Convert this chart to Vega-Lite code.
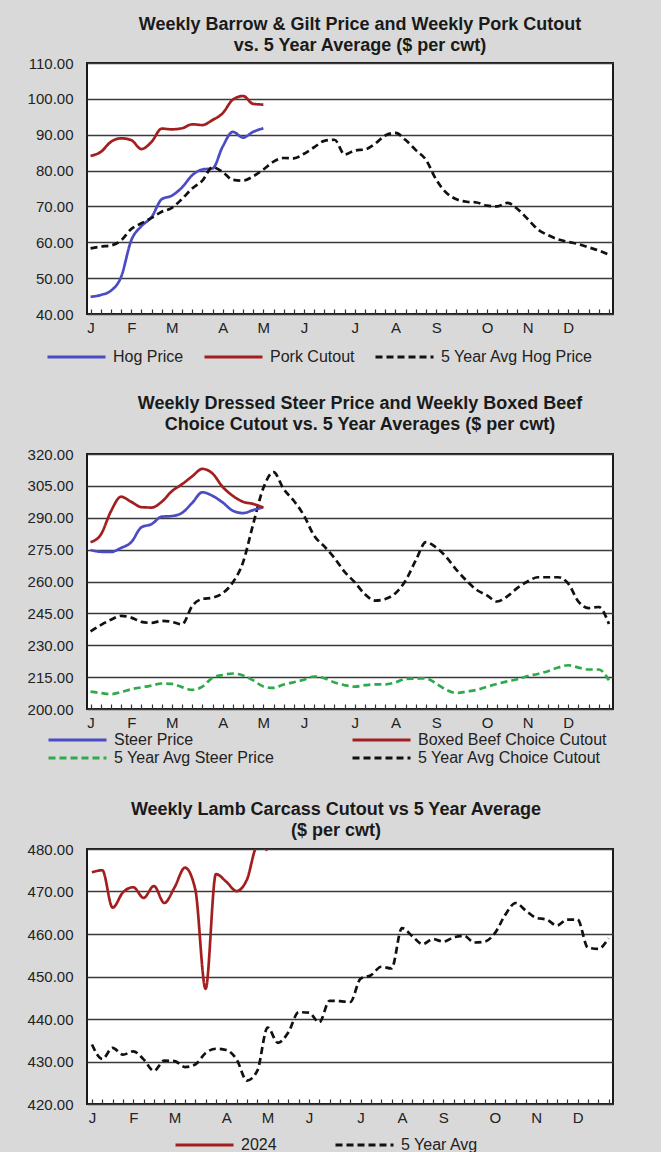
{
  "$schema": "https://vega.github.io/schema/vega-lite/v6.json",
  "padding": {"left": 26, "top": 15, "right": 50, "bottom": 0},
  "background": "#d9d9d9",
  "bounds": "flush",
  "spacing": 140,
  "datasets": {
    "hog": [
      {"week":1,"series":"Hog Price","value":44.8},{"week":2,"series":"Hog Price","value":45.3},{"week":3,"series":"Hog Price","value":46.5},{"week":4,"series":"Hog Price","value":50.3},{"week":5,"series":"Hog Price","value":60.5},{"week":6,"series":"Hog Price","value":64.5},{"week":7,"series":"Hog Price","value":67.0},{"week":8,"series":"Hog Price","value":72.0},{"week":9,"series":"Hog Price","value":73.0},{"week":10,"series":"Hog Price","value":75.3},{"week":11,"series":"Hog Price","value":78.7},{"week":12,"series":"Hog Price","value":80.3},{"week":13,"series":"Hog Price","value":80.6},{"week":14,"series":"Hog Price","value":86.7},{"week":15,"series":"Hog Price","value":90.8},{"week":16,"series":"Hog Price","value":89.2},{"week":17,"series":"Hog Price","value":90.8},{"week":18,"series":"Hog Price","value":91.8},
      {"week":1,"series":"Pork Cutout","value":84.1},{"week":2,"series":"Pork Cutout","value":85.2},{"week":3,"series":"Pork Cutout","value":88.0},{"week":4,"series":"Pork Cutout","value":89.0},{"week":5,"series":"Pork Cutout","value":88.5},{"week":6,"series":"Pork Cutout","value":86.0},{"week":7,"series":"Pork Cutout","value":88.0},{"week":8,"series":"Pork Cutout","value":91.7},{"week":9,"series":"Pork Cutout","value":91.5},{"week":10,"series":"Pork Cutout","value":91.8},{"week":11,"series":"Pork Cutout","value":92.9},{"week":12,"series":"Pork Cutout","value":92.7},{"week":13,"series":"Pork Cutout","value":94.1},{"week":14,"series":"Pork Cutout","value":96.0},{"week":15,"series":"Pork Cutout","value":99.8},{"week":16,"series":"Pork Cutout","value":100.8},{"week":17,"series":"Pork Cutout","value":98.6},{"week":18,"series":"Pork Cutout","value":98.4},
      {"week":1,"series":"5 Year Avg Hog Price","value":58.3},{"week":2,"series":"5 Year Avg Hog Price","value":58.8},{"week":3,"series":"5 Year Avg Hog Price","value":59.1},{"week":4,"series":"5 Year Avg Hog Price","value":60.5},{"week":5,"series":"5 Year Avg Hog Price","value":63.7},{"week":6,"series":"5 Year Avg Hog Price","value":65.3},{"week":7,"series":"5 Year Avg Hog Price","value":66.8},{"week":8,"series":"5 Year Avg Hog Price","value":68.5},{"week":9,"series":"5 Year Avg Hog Price","value":69.6},{"week":10,"series":"5 Year Avg Hog Price","value":72.1},{"week":11,"series":"5 Year Avg Hog Price","value":75.0},{"week":12,"series":"5 Year Avg Hog Price","value":77.2},{"week":13,"series":"5 Year Avg Hog Price","value":80.9},{"week":14,"series":"5 Year Avg Hog Price","value":79.6},{"week":15,"series":"5 Year Avg Hog Price","value":77.4},{"week":16,"series":"5 Year Avg Hog Price","value":77.2},{"week":17,"series":"5 Year Avg Hog Price","value":78.4},{"week":18,"series":"5 Year Avg Hog Price","value":80.3},{"week":19,"series":"5 Year Avg Hog Price","value":82.5},{"week":20,"series":"5 Year Avg Hog Price","value":83.5},{"week":21,"series":"5 Year Avg Hog Price","value":83.4},{"week":22,"series":"5 Year Avg Hog Price","value":84.7},{"week":23,"series":"5 Year Avg Hog Price","value":86.5},{"week":24,"series":"5 Year Avg Hog Price","value":88.3},{"week":25,"series":"5 Year Avg Hog Price","value":88.6},{"week":26,"series":"5 Year Avg Hog Price","value":84.5},{"week":27,"series":"5 Year Avg Hog Price","value":85.6},{"week":28,"series":"5 Year Avg Hog Price","value":85.9},{"week":29,"series":"5 Year Avg Hog Price","value":87.5},{"week":30,"series":"5 Year Avg Hog Price","value":89.8},{"week":31,"series":"5 Year Avg Hog Price","value":90.5},{"week":32,"series":"5 Year Avg Hog Price","value":88.5},{"week":33,"series":"5 Year Avg Hog Price","value":85.7},{"week":34,"series":"5 Year Avg Hog Price","value":83.0},{"week":35,"series":"5 Year Avg Hog Price","value":77.5},{"week":36,"series":"5 Year Avg Hog Price","value":73.8},{"week":37,"series":"5 Year Avg Hog Price","value":72.0},{"week":38,"series":"5 Year Avg Hog Price","value":71.3},{"week":39,"series":"5 Year Avg Hog Price","value":71.1},{"week":40,"series":"5 Year Avg Hog Price","value":70.2},{"week":41,"series":"5 Year Avg Hog Price","value":70.0},{"week":42,"series":"5 Year Avg Hog Price","value":71.0},{"week":43,"series":"5 Year Avg Hog Price","value":69.3},{"week":44,"series":"5 Year Avg Hog Price","value":66.5},{"week":45,"series":"5 Year Avg Hog Price","value":63.6},{"week":46,"series":"5 Year Avg Hog Price","value":62.0},{"week":47,"series":"5 Year Avg Hog Price","value":60.8},{"week":48,"series":"5 Year Avg Hog Price","value":60.1},{"week":49,"series":"5 Year Avg Hog Price","value":59.5},{"week":50,"series":"5 Year Avg Hog Price","value":58.6},{"week":51,"series":"5 Year Avg Hog Price","value":57.7},{"week":52,"series":"5 Year Avg Hog Price","value":56.5}
    ],
    "beef": [
      {"week":1,"series":"5 Year Avg Steer Price","value":208.2},{"week":2,"series":"5 Year Avg Steer Price","value":207.5},{"week":3,"series":"5 Year Avg Steer Price","value":207.0},{"week":4,"series":"5 Year Avg Steer Price","value":208.0},{"week":5,"series":"5 Year Avg Steer Price","value":209.3},{"week":6,"series":"5 Year Avg Steer Price","value":210.2},{"week":7,"series":"5 Year Avg Steer Price","value":211.0},{"week":8,"series":"5 Year Avg Steer Price","value":212.0},{"week":9,"series":"5 Year Avg Steer Price","value":211.8},{"week":10,"series":"5 Year Avg Steer Price","value":210.3},{"week":11,"series":"5 Year Avg Steer Price","value":209.0},{"week":12,"series":"5 Year Avg Steer Price","value":210.5},{"week":13,"series":"5 Year Avg Steer Price","value":214.7},{"week":14,"series":"5 Year Avg Steer Price","value":216.0},{"week":15,"series":"5 Year Avg Steer Price","value":216.7},{"week":16,"series":"5 Year Avg Steer Price","value":215.8},{"week":17,"series":"5 Year Avg Steer Price","value":213.5},{"week":18,"series":"5 Year Avg Steer Price","value":210.6},{"week":19,"series":"5 Year Avg Steer Price","value":209.9},{"week":20,"series":"5 Year Avg Steer Price","value":211.5},{"week":21,"series":"5 Year Avg Steer Price","value":212.6},{"week":22,"series":"5 Year Avg Steer Price","value":213.8},{"week":23,"series":"5 Year Avg Steer Price","value":215.3},{"week":24,"series":"5 Year Avg Steer Price","value":214.5},{"week":25,"series":"5 Year Avg Steer Price","value":212.5},{"week":26,"series":"5 Year Avg Steer Price","value":211.2},{"week":27,"series":"5 Year Avg Steer Price","value":210.5},{"week":28,"series":"5 Year Avg Steer Price","value":211.2},{"week":29,"series":"5 Year Avg Steer Price","value":211.6},{"week":30,"series":"5 Year Avg Steer Price","value":211.6},{"week":31,"series":"5 Year Avg Steer Price","value":212.5},{"week":32,"series":"5 Year Avg Steer Price","value":214.2},{"week":33,"series":"5 Year Avg Steer Price","value":214.3},{"week":34,"series":"5 Year Avg Steer Price","value":214.4},{"week":35,"series":"5 Year Avg Steer Price","value":212.0},{"week":36,"series":"5 Year Avg Steer Price","value":209.0},{"week":37,"series":"5 Year Avg Steer Price","value":207.5},{"week":38,"series":"5 Year Avg Steer Price","value":208.2},{"week":39,"series":"5 Year Avg Steer Price","value":209.0},{"week":40,"series":"5 Year Avg Steer Price","value":210.5},{"week":41,"series":"5 Year Avg Steer Price","value":211.8},{"week":42,"series":"5 Year Avg Steer Price","value":213.0},{"week":43,"series":"5 Year Avg Steer Price","value":214.0},{"week":44,"series":"5 Year Avg Steer Price","value":215.5},{"week":45,"series":"5 Year Avg Steer Price","value":216.5},{"week":46,"series":"5 Year Avg Steer Price","value":217.8},{"week":47,"series":"5 Year Avg Steer Price","value":219.5},{"week":48,"series":"5 Year Avg Steer Price","value":220.6},{"week":49,"series":"5 Year Avg Steer Price","value":219.5},{"week":50,"series":"5 Year Avg Steer Price","value":218.6},{"week":51,"series":"5 Year Avg Steer Price","value":218.6},{"week":52,"series":"5 Year Avg Steer Price","value":213.5},
      {"week":1,"series":"5 Year Avg Choice Cutout","value":236.5},{"week":2,"series":"5 Year Avg Choice Cutout","value":239.5},{"week":3,"series":"5 Year Avg Choice Cutout","value":242.0},{"week":4,"series":"5 Year Avg Choice Cutout","value":243.8},{"week":5,"series":"5 Year Avg Choice Cutout","value":243.0},{"week":6,"series":"5 Year Avg Choice Cutout","value":241.0},{"week":7,"series":"5 Year Avg Choice Cutout","value":240.5},{"week":8,"series":"5 Year Avg Choice Cutout","value":241.5},{"week":9,"series":"5 Year Avg Choice Cutout","value":241.0},{"week":10,"series":"5 Year Avg Choice Cutout","value":239.8},{"week":11,"series":"5 Year Avg Choice Cutout","value":248.5},{"week":12,"series":"5 Year Avg Choice Cutout","value":251.8},{"week":13,"series":"5 Year Avg Choice Cutout","value":252.4},{"week":14,"series":"5 Year Avg Choice Cutout","value":254.5},{"week":15,"series":"5 Year Avg Choice Cutout","value":259.6},{"week":16,"series":"5 Year Avg Choice Cutout","value":269.0},{"week":17,"series":"5 Year Avg Choice Cutout","value":287.0},{"week":18,"series":"5 Year Avg Choice Cutout","value":304.0},{"week":19,"series":"5 Year Avg Choice Cutout","value":311.5},{"week":20,"series":"5 Year Avg Choice Cutout","value":303.5},{"week":21,"series":"5 Year Avg Choice Cutout","value":298.0},{"week":22,"series":"5 Year Avg Choice Cutout","value":291.0},{"week":23,"series":"5 Year Avg Choice Cutout","value":281.5},{"week":24,"series":"5 Year Avg Choice Cutout","value":276.5},{"week":25,"series":"5 Year Avg Choice Cutout","value":271.0},{"week":26,"series":"5 Year Avg Choice Cutout","value":264.5},{"week":27,"series":"5 Year Avg Choice Cutout","value":259.6},{"week":28,"series":"5 Year Avg Choice Cutout","value":254.0},{"week":29,"series":"5 Year Avg Choice Cutout","value":251.0},{"week":30,"series":"5 Year Avg Choice Cutout","value":251.8},{"week":31,"series":"5 Year Avg Choice Cutout","value":254.5},{"week":32,"series":"5 Year Avg Choice Cutout","value":260.5},{"week":33,"series":"5 Year Avg Choice Cutout","value":270.0},{"week":34,"series":"5 Year Avg Choice Cutout","value":278.5},{"week":35,"series":"5 Year Avg Choice Cutout","value":276.0},{"week":36,"series":"5 Year Avg Choice Cutout","value":271.5},{"week":37,"series":"5 Year Avg Choice Cutout","value":265.5},{"week":38,"series":"5 Year Avg Choice Cutout","value":260.3},{"week":39,"series":"5 Year Avg Choice Cutout","value":256.0},{"week":40,"series":"5 Year Avg Choice Cutout","value":253.5},{"week":41,"series":"5 Year Avg Choice Cutout","value":250.6},{"week":42,"series":"5 Year Avg Choice Cutout","value":253.0},{"week":43,"series":"5 Year Avg Choice Cutout","value":257.0},{"week":44,"series":"5 Year Avg Choice Cutout","value":260.0},{"week":45,"series":"5 Year Avg Choice Cutout","value":262.0},{"week":46,"series":"5 Year Avg Choice Cutout","value":262.0},{"week":47,"series":"5 Year Avg Choice Cutout","value":262.0},{"week":48,"series":"5 Year Avg Choice Cutout","value":259.0},{"week":49,"series":"5 Year Avg Choice Cutout","value":250.5},{"week":50,"series":"5 Year Avg Choice Cutout","value":247.5},{"week":51,"series":"5 Year Avg Choice Cutout","value":248.0},{"week":52,"series":"5 Year Avg Choice Cutout","value":240.0},
      {"week":1,"series":"Steer Price","value":274.8},{"week":2,"series":"Steer Price","value":274.0},{"week":3,"series":"Steer Price","value":273.9},{"week":4,"series":"Steer Price","value":275.8},{"week":5,"series":"Steer Price","value":278.5},{"week":6,"series":"Steer Price","value":285.5},{"week":7,"series":"Steer Price","value":287.0},{"week":8,"series":"Steer Price","value":290.5},{"week":9,"series":"Steer Price","value":290.8},{"week":10,"series":"Steer Price","value":292.3},{"week":11,"series":"Steer Price","value":297.0},{"week":12,"series":"Steer Price","value":302.0},{"week":13,"series":"Steer Price","value":300.3},{"week":14,"series":"Steer Price","value":297.2},{"week":15,"series":"Steer Price","value":293.3},{"week":16,"series":"Steer Price","value":292.2},{"week":17,"series":"Steer Price","value":293.6},{"week":18,"series":"Steer Price","value":295.0},
      {"week":1,"series":"Boxed Beef Choice Cutout","value":278.5},{"week":2,"series":"Boxed Beef Choice Cutout","value":282.0},{"week":3,"series":"Boxed Beef Choice Cutout","value":293.0},{"week":4,"series":"Boxed Beef Choice Cutout","value":299.9},{"week":5,"series":"Boxed Beef Choice Cutout","value":297.5},{"week":6,"series":"Boxed Beef Choice Cutout","value":295.0},{"week":7,"series":"Boxed Beef Choice Cutout","value":294.8},{"week":8,"series":"Boxed Beef Choice Cutout","value":297.5},{"week":9,"series":"Boxed Beef Choice Cutout","value":302.5},{"week":10,"series":"Boxed Beef Choice Cutout","value":305.8},{"week":11,"series":"Boxed Beef Choice Cutout","value":309.5},{"week":12,"series":"Boxed Beef Choice Cutout","value":313.0},{"week":13,"series":"Boxed Beef Choice Cutout","value":310.8},{"week":14,"series":"Boxed Beef Choice Cutout","value":304.5},{"week":15,"series":"Boxed Beef Choice Cutout","value":300.3},{"week":16,"series":"Boxed Beef Choice Cutout","value":297.5},{"week":17,"series":"Boxed Beef Choice Cutout","value":296.5},{"week":18,"series":"Boxed Beef Choice Cutout","value":294.8}
    ],
    "lamb": [
      {"week":1,"series":"5 Year Avg","value":434.0},{"week":2,"series":"5 Year Avg","value":430.6},{"week":3,"series":"5 Year Avg","value":433.2},{"week":4,"series":"5 Year Avg","value":431.6},{"week":5,"series":"5 Year Avg","value":432.4},{"week":6,"series":"5 Year Avg","value":430.5},{"week":7,"series":"5 Year Avg","value":427.8},{"week":8,"series":"5 Year Avg","value":430.2},{"week":9,"series":"5 Year Avg","value":430.1},{"week":10,"series":"5 Year Avg","value":428.7},{"week":11,"series":"5 Year Avg","value":429.3},{"week":12,"series":"5 Year Avg","value":432.0},{"week":13,"series":"5 Year Avg","value":433.0},{"week":14,"series":"5 Year Avg","value":432.7},{"week":15,"series":"5 Year Avg","value":430.5},{"week":16,"series":"5 Year Avg","value":425.5},{"week":17,"series":"5 Year Avg","value":427.8},{"week":18,"series":"5 Year Avg","value":438.0},{"week":19,"series":"5 Year Avg","value":434.4},{"week":20,"series":"5 Year Avg","value":436.8},{"week":21,"series":"5 Year Avg","value":441.6},{"week":22,"series":"5 Year Avg","value":441.5},{"week":23,"series":"5 Year Avg","value":439.2},{"week":24,"series":"5 Year Avg","value":444.3},{"week":25,"series":"5 Year Avg","value":444.2},{"week":26,"series":"5 Year Avg","value":444.0},{"week":27,"series":"5 Year Avg","value":449.5},{"week":28,"series":"5 Year Avg","value":450.3},{"week":29,"series":"5 Year Avg","value":452.3},{"week":30,"series":"5 Year Avg","value":451.9},{"week":31,"series":"5 Year Avg","value":461.4},{"week":32,"series":"5 Year Avg","value":459.5},{"week":33,"series":"5 Year Avg","value":457.6},{"week":34,"series":"5 Year Avg","value":458.8},{"week":35,"series":"5 Year Avg","value":458.2},{"week":36,"series":"5 Year Avg","value":459.2},{"week":37,"series":"5 Year Avg","value":459.6},{"week":38,"series":"5 Year Avg","value":458.0},{"week":39,"series":"5 Year Avg","value":458.2},{"week":40,"series":"5 Year Avg","value":460.2},{"week":41,"series":"5 Year Avg","value":464.5},{"week":42,"series":"5 Year Avg","value":467.3},{"week":43,"series":"5 Year Avg","value":465.5},{"week":44,"series":"5 Year Avg","value":463.8},{"week":45,"series":"5 Year Avg","value":463.4},{"week":46,"series":"5 Year Avg","value":462.0},{"week":47,"series":"5 Year Avg","value":463.4},{"week":48,"series":"5 Year Avg","value":463.4},{"week":49,"series":"5 Year Avg","value":456.8},{"week":50,"series":"5 Year Avg","value":456.5},{"week":51,"series":"5 Year Avg","value":459.0},
      {"week":1,"series":"2024","value":474.5},{"week":2,"series":"2024","value":475.0},{"week":3,"series":"2024","value":466.2},{"week":4,"series":"2024","value":469.8},{"week":5,"series":"2024","value":471.0},{"week":6,"series":"2024","value":468.5},{"week":7,"series":"2024","value":471.3},{"week":8,"series":"2024","value":467.3},{"week":9,"series":"2024","value":471.0},{"week":10,"series":"2024","value":475.6},{"week":11,"series":"2024","value":470.5},{"week":12,"series":"2024","value":447.1},{"week":13,"series":"2024","value":474.1},{"week":14,"series":"2024","value":472.3},{"week":15,"series":"2024","value":470.1},{"week":16,"series":"2024","value":472.8},{"week":17,"series":"2024","value":480.6},{"week":18,"series":"2024","value":479.7}
    ]
  },
  "resolve": {
    "scale": {"x": "independent", "y": "independent", "color": "independent", "strokeDash": "independent"},
    "legend": {"color": "independent", "strokeDash": "independent"}
  },
  "vconcat": [
    {
      "width": 526, "height": 251,
      "data": {"name": "hog"},
      "title": {"text": ["Weekly Barrow  & Gilt Price and Weekly Pork Cutout", "vs. 5 Year Average ($ per cwt)"], "dx": 10, "offset": 1},
      "mark": {"type": "line", "interpolate": "monotone", "strokeWidth": 2.7},
      "encoding": {
        "x": {"field": "week", "type": "quantitative", "scale": {"domain": [0.65, 52.4], "nice": false, "zero": false},
              "axis": {"title": null, "values": [1,2,3,4,5,6,7,8,9,10,11,12,13,14,15,16,17,18,19,20,21,22,23,24,25,26,27,28,29,30,31,32,33,34,35,36,37,38,39,40,41,42,43,44,45,46,47,48,49,50,51,52],
                       "labelExpr": "['J','F','M','A','M','J','J','A','S','O','N','D'][indexof([1,5,9,14,18,22,27,31,35,40,44,48], datum.value)] || ''"}},
        "y": {"field": "value", "type": "quantitative", "scale": {"domain": [40, 110], "nice": false, "zero": false},
              "axis": {"title": null, "values": [40,50,60,70,80,90,100,110], "format": ".2f"}},
        "color": {"field": "series", "type": "nominal",
                  "scale": {"domain": ["Hog Price", "Pork Cutout", "5 Year Avg Hog Price"], "range": ["#4B4BC4", "#A31F1F", "#111111"]},
                  "legend": {"title": null, "orient": "none", "legendX": -41, "legendY": 285, "direction": "horizontal", "columns": 3, "columnPadding": 19}},
        "strokeDash": {"field": "series", "type": "nominal",
                  "scale": {"domain": ["Hog Price", "Pork Cutout", "5 Year Avg Hog Price"], "range": [[1, 0], [1, 0], [7, 4]]},
                  "legend": {"title": null, "orient": "none", "legendX": -41, "legendY": 285, "direction": "horizontal", "columns": 3, "columnPadding": 19}}
      }
    },
    {
      "width": 526, "height": 255,
      "data": {"name": "beef"},
      "title": {"text": ["Weekly Dressed Steer Price and Weekly Boxed Beef", "Choice Cutout vs. 5 Year Averages ($ per cwt)"], "dx": 10, "offset": 13},
      "mark": {"type": "line", "interpolate": "monotone", "strokeWidth": 2.7},
      "encoding": {
        "x": {"field": "week", "type": "quantitative", "scale": {"domain": [0.65, 52.4], "nice": false, "zero": false},
              "axis": {"title": null, "values": [1,2,3,4,5,6,7,8,9,10,11,12,13,14,15,16,17,18,19,20,21,22,23,24,25,26,27,28,29,30,31,32,33,34,35,36,37,38,39,40,41,42,43,44,45,46,47,48,49,50,51,52],
                       "labelExpr": "['J','F','M','A','M','J','J','A','S','O','N','D'][indexof([1,5,9,14,18,22,27,31,35,40,44,48], datum.value)] || ''"}},
        "y": {"field": "value", "type": "quantitative", "scale": {"domain": [200, 320], "nice": false, "zero": false},
              "axis": {"title": null, "values": [200,215,230,245,260,275,290,305,320], "format": ".2f"}},
        "color": {"field": "series", "type": "nominal",
                  "scale": {"domain": ["Steer Price", "Boxed Beef Choice Cutout", "5 Year Avg Steer Price", "5 Year Avg Choice Cutout"], "range": ["#4B4BC4", "#A31F1F", "#2EAA4A", "#111111"]},
                  "legend": {"title": null, "orient": "none", "legendX": -40, "legendY": 277, "direction": "horizontal", "columns": 2, "columnPadding": 76}},
        "strokeDash": {"field": "series", "type": "nominal",
                  "scale": {"domain": ["Steer Price", "Boxed Beef Choice Cutout", "5 Year Avg Steer Price", "5 Year Avg Choice Cutout"], "range": [[1, 0], [1, 0], [7, 4], [7, 4]]},
                  "legend": {"title": null, "orient": "none", "legendX": -40, "legendY": 277, "direction": "horizontal", "columns": 2, "columnPadding": 76}}
      }
    },
    {
      "width": 526, "height": 255,
      "data": {"name": "lamb"},
      "title": {"text": ["Weekly Lamb Carcass Cutout vs 5 Year Average", "($ per cwt)"], "dx": -14, "offset": 2},
      "mark": {"type": "line", "interpolate": "monotone", "strokeWidth": 2.7, "clip": true},
      "encoding": {
        "x": {"field": "week", "type": "quantitative", "scale": {"domain": [0.52, 51.43], "nice": false, "zero": false},
              "axis": {"title": null, "values": [1,2,3,4,5,6,7,8,9,10,11,12,13,14,15,16,17,18,19,20,21,22,23,24,25,26,27,28,29,30,31,32,33,34,35,36,37,38,39,40,41,42,43,44,45,46,47,48,49,50,51],
                       "labelExpr": "['J','F','M','A','M','J','J','A','S','O','N','D'][indexof([1,5,9,14,18,22,27,31,35,40,44,48], datum.value)] || ''"}},
        "y": {"field": "value", "type": "quantitative", "scale": {"domain": [420, 480], "nice": false, "zero": false},
              "axis": {"title": null, "values": [420,430,440,450,460,470,480], "format": ".2f"}},
        "color": {"field": "series", "type": "nominal",
                  "scale": {"domain": ["2024", "5 Year Avg"], "range": ["#A31F1F", "#111111"]},
                  "legend": {"title": null, "orient": "none", "legendX": 87, "legendY": 287, "direction": "horizontal", "columns": 2, "columnPadding": 57}},
        "strokeDash": {"field": "series", "type": "nominal",
                  "scale": {"domain": ["2024", "5 Year Avg"], "range": [[1, 0], [7, 4]]},
                  "legend": {"title": null, "orient": "none", "legendX": 87, "legendY": 287, "direction": "horizontal", "columns": 2, "columnPadding": 57}}
      }
    }
  ],
  "config": {
    "font": "Liberation Sans",
    "view": {"fill": "white", "stroke": "#1a1a1a", "strokeWidth": 2},
    "axis": {"labelFont": "Liberation Sans", "labelFontSize": 15, "labelColor": "#222222"},
    "axisY": {"grid": true, "gridColor": "#3a3a3a", "gridWidth": 1.5, "domain": false, "ticks": false, "labelPadding": 14},
    "axisX": {"grid": false, "domain": false, "ticks": true, "tickSize": -5, "tickColor": "#333333", "tickWidth": 1.2, "labelPadding": 11.5, "labelFlush": false, "labelOverlap": false, "labelAngle": 0},
    "title": {"font": "Liberation Sans", "fontSize": 18, "fontWeight": "bold", "color": "#1a1a1a", "lineHeight": 21, "frame": "group", "anchor": "middle"},
    "legend": {"symbolType": "stroke", "symbolSize": 3364, "symbolStrokeWidth": 3, "clipHeight": 18, "labelFont": "Liberation Sans", "labelFontSize": 16, "labelColor": "#222222", "labelOffset": 6, "rowPadding": 0, "gridAlign": "each", "labelLimit": 400, "padding": 0}
  }
}
